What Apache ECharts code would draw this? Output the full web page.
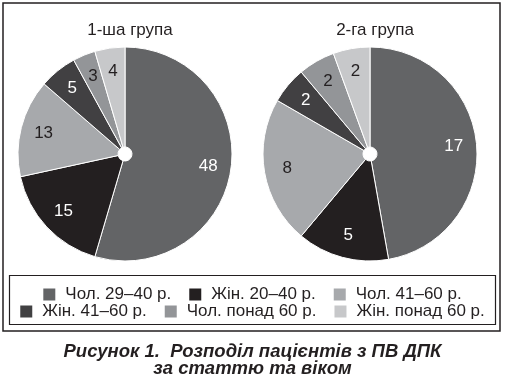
<!DOCTYPE html>
<html><head><meta charset="utf-8">
<script src="https://cdn.jsdelivr.net/npm/echarts@6/dist/echarts.min.js"></script>
<style>html,body{margin:0;padding:0;background:#fff}#c{width:505px;height:383px}</style>
</head><body><div id="c"></div>
<script>
const categories = ['Чол. 29–40 р.', 'Жін. 20–40 р.', 'Чол. 41–60 р.', 'Жін. 41–60 р.', 'Чол. понад 60 р.', 'Жін. понад 60 р.'];
const group1Values = [48, 15, 13, 5, 3, 4];
const group2Values = [17, 5, 8, 2, 2, 2];
const groupTitles = ['1-ша група', '2-га група'];
const captionLines = ['Рисунок 1.  Розподіл пацієнтів з ПВ ДПК', 'за статтю та віком'];

const colors = ['#636466', '#231f20', '#a7a9ac', '#414042', '#939598', '#c7c8ca'];
const labelColors = ['#ffffff', '#ffffff', '#231f20', '#ffffff', '#231f20', '#231f20'];
const FONT = '"Liberation Sans", Arial, Helvetica, sans-serif';

function mainSeries(values, cx) {
  return {
    type: 'pie', center: [cx, 154], radius: [7, 107], startAngle: 90, clockwise: true,
    avoidLabelOverlap: false, silent: true,
    label: { show: false }, labelLine: { show: false },
    itemStyle: { borderColor: '#ffffff', borderWidth: 1 },
    data: values.map((v, i) => ({ name: categories[i], value: v, itemStyle: { color: colors[i] } }))
  };
}
function labelSeries(values, cx) {
  return {
    type: 'pie', center: [cx, 154], radius: [55, 107], startAngle: 90, clockwise: true,
    avoidLabelOverlap: false, silent: true,
    labelLine: { show: false },
    itemStyle: { color: 'rgba(0,0,0,0)', borderWidth: 0 },
    label: { show: true, position: 'inside', formatter: '{c}', fontFamily: FONT, fontSize: 17 },
    data: values.map((v, i) => ({ value: v, label: { color: labelColors[i] } }))
  };
}

const legendCommon = {
  left: 'center', itemWidth: 12, itemHeight: 12, itemGap: 18, icon: 'rect', selectedMode: false,
  itemStyle: { borderWidth: 0 },
  textStyle: { fontFamily: FONT, fontSize: 17, color: '#231f20', padding: [0, 0, 0, 5] }
};

const chart = echarts.init(document.getElementById('c'), null, { renderer: 'canvas' });
chart.setOption({
  animation: false,
  color: colors,
  title: [
    { text: groupTitles[0], left: 125, top: 17, textAlign: 'center', textStyle: { fontFamily: FONT, fontSize: 17, fontWeight: 'normal', color: '#231f20' } },
    { text: groupTitles[1], left: 370, top: 17, textAlign: 'center', textStyle: { fontFamily: FONT, fontSize: 17, fontWeight: 'normal', color: '#231f20' } }
  ],
  legend: [
    Object.assign({ data: categories.slice(0, 3), top: 281 }, legendCommon),
    Object.assign({ data: categories.slice(3), top: 298 }, legendCommon)
  ],
  graphic: [
    { type: 'rect', shape: { x: 3, y: 3, width: 497, height: 328 }, style: { fill: 'none', stroke: '#231f20', lineWidth: 1.5 }, z: -1 },
    { type: 'rect', shape: { x: 9.5, y: 275.5, width: 486, height: 49 }, style: { fill: 'none', stroke: '#231f20', lineWidth: 1.2 }, z: -1 },
    { type: 'text', left: 'center', top: 342, style: { text: captionLines[0], font: 'italic bold 18.5px ' + FONT, fill: '#231f20' } },
    { type: 'text', left: 'center', top: 359, style: { text: captionLines[1], font: 'italic bold 18.5px ' + FONT, fill: '#231f20' } }
  ],
  series: [mainSeries(group1Values, 125), labelSeries(group1Values, 125), mainSeries(group2Values, 370), labelSeries(group2Values, 370)]
});
</script></body></html>
